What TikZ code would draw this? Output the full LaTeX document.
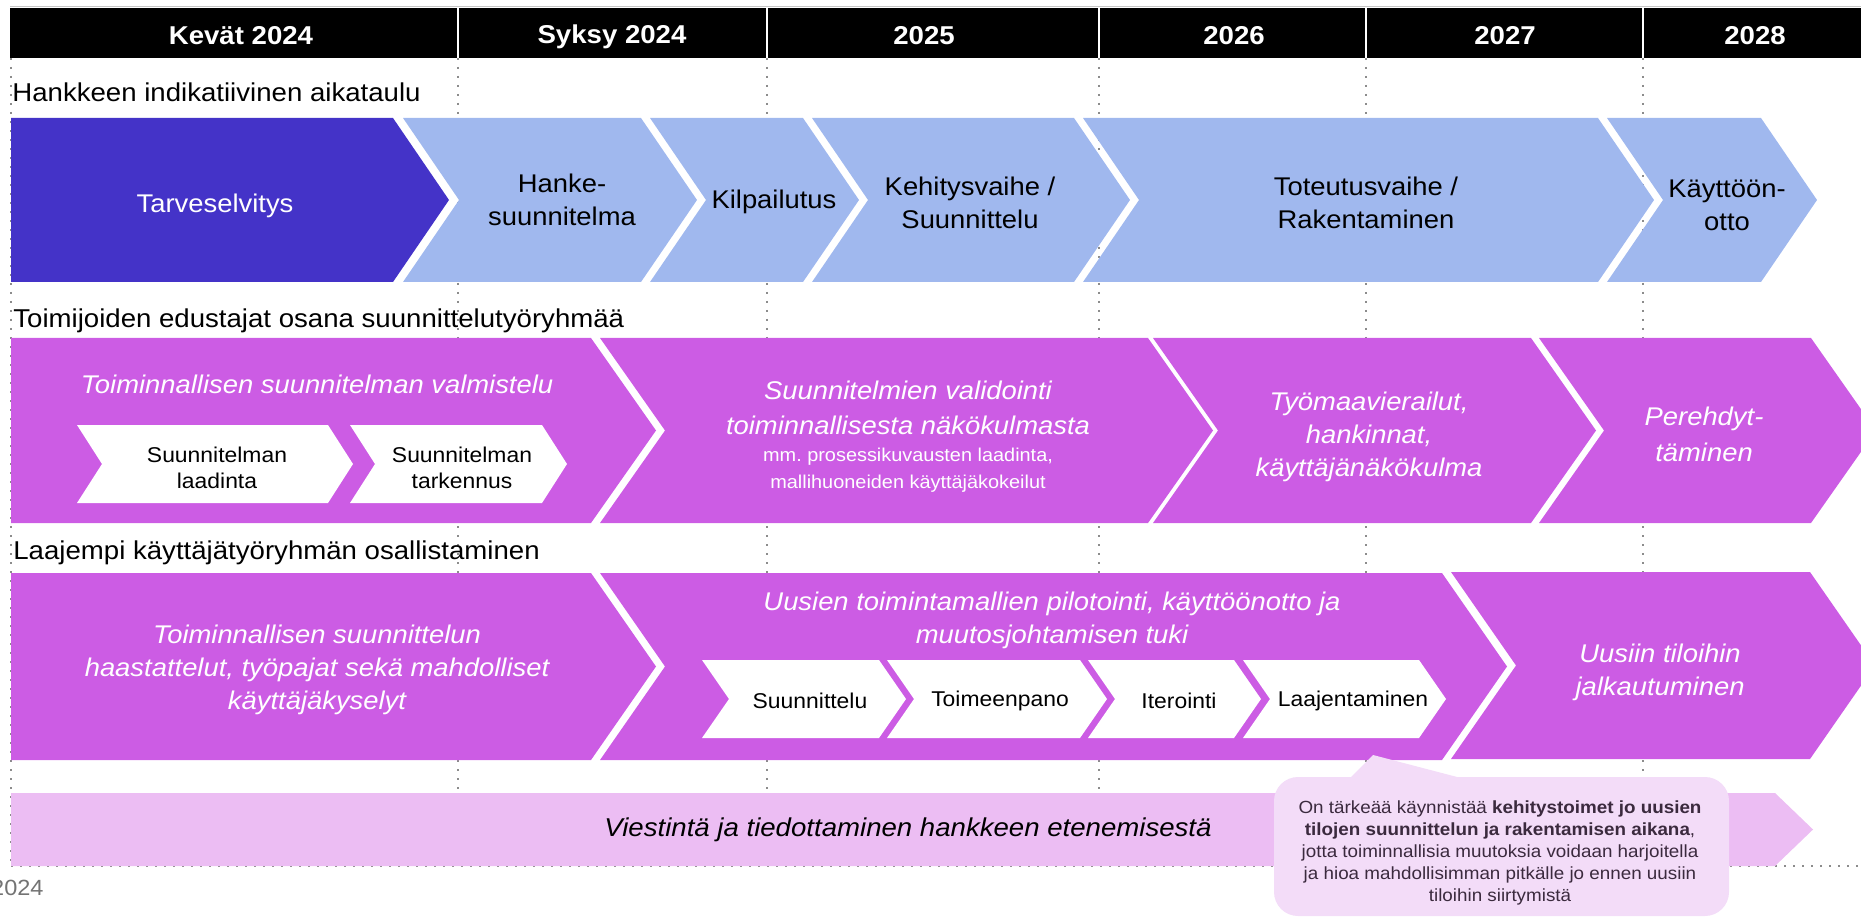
\documentclass[tikz,border=0pt]{standalone}
\usepackage{fontspec}
\setmainfont{Liberation Sans}[FakeStretch=1.07]
\definecolor{dblue}{HTML}{4433C8}
\definecolor{lblue}{HTML}{A0B8EE}
\definecolor{mag}{HTML}{CC5CE4}
\definecolor{lpink}{HTML}{ECBDF3}
\definecolor{bub}{HTML}{F3DCF8}
\definecolor{dotg}{HTML}{8C8C8C}
\definecolor{bubtext}{HTML}{3B2A3E}
% notched chevron: fill, left x, right x, top y, bottom y, depth
\newcommand\chevN[6]{\fill[#1] (#2,#4) -- (#3,#4) -- ({#3+#6},{(#4+#5)/2}) -- (#3,#5) -- (#2,#5) -- ({#2+#6},{(#4+#5)/2}) -- cycle;}
% flat-left chevron
\newcommand\chevF[6]{\fill[#1] (#2,#4) -- (#3,#4) -- ({#3+#6},{(#4+#5)/2}) -- (#3,#5) -- (#2,#5) -- cycle;}
\tikzset{
  dotline/.style={draw=dotg, line width=1pt, dash pattern=on 1pt off 3.5pt},
  lbl/.style={anchor=west, inner sep=0pt, font=\fontsize{12.9}{16}\selectfont},
  hdr/.style={text=white, inner sep=0pt, font=\bfseries\fontsize{12.9}{16}\selectfont},
  tone/.style={align=center, inner sep=0pt, font=\fontsize{12.8}{16.5}\selectfont},
  ttwo/.style={align=center, inner sep=0pt, text=white, font=\itshape\fontsize{12.8}{16.5}\selectfont},
  subt/.style={align=center, inner sep=0pt, font=\fontsize{10.7}{13}\selectfont},
}
\begin{document}
\begin{tikzpicture}[x=0.5pt,y=-0.5pt]
\useasboundingbox (0,0) rectangle (1861,919);
\clip (0,0) rectangle (1861,919);
% grid of dotted lines
\foreach \xx in {11,458,767,1099,1366,1643} \draw[dotline] (\xx,58) -- (\xx,866);
\draw[dotline] (11,866) -- (1861,866);
% header
\draw[gray!45, line width=0.5pt] (10,6.5) -- (1861,6.5);
\fill[black] (10,8) rectangle (1861,58);
\foreach \xx in {458,767,1099,1366,1643} \draw[white, line width=1pt] (\xx,8) -- (\xx,58);
\node[hdr] (h1) at (241,35.5) {Kevät 2024};
\node[hdr] (h2) at (612,37) {Syksy 2024};
\node[hdr] (h3) at (924,35.5) {2025};
\node[hdr] (h4) at (1234,35.5) {2026};
\node[hdr] (h5) at (1505,35.5) {2027};
\node[hdr] (h6) at (1755,35.5) {2028};
% row labels
\node[lbl] (l1) at (12,92) {Hankkeen indikatiivinen aikataulu};
\node[lbl] (l2) at (13,321) {Toimijoiden edustajat osana suunnittelutyöryhmää};
\node[lbl] (l3) at (13,552.5) {Laajempi käyttäjätyöryhmän osallistaminen};
% row 1
\chevF{dblue}{11}{393}{118}{282}{56}
\chevN{lblue}{403}{641}{118}{282}{56}
\chevN{lblue}{650}{803}{118}{282}{56}
\chevN{lblue}{812}{1074}{118}{282}{56}
\chevN{lblue}{1083}{1598}{118}{282}{56}
\chevN{lblue}{1607}{1761}{118}{282}{56}
\node[tone, text=white] (r1a) at (215,205.5) {Tarveselvitys};
\node[tone] (r1b) at (562,200) {Hanke-\\suunnitelma};
\node[tone] (r1c) at (774,202) {Kilpailutus};
\node[tone] (r1d) at (970,203) {Kehitysvaihe /\\Suunnittelu};
\node[tone] (r1e) at (1366,203) {Toteutusvaihe /\\Rakentaminen};
\node[tone] (r1f) at (1727,205) {Käyttöön-\\otto};
% row 2
\chevF{mag}{11}{591}{338}{523}{65}
\chevN{mag}{600}{1148}{338}{523}{65}
\chevN{mag}{1153}{1531}{338}{523}{65}
\chevN{mag}{1539}{1811}{338}{523}{65}
\node[ttwo] (r2a) at (317,384) {Toiminnallisen suunnitelman valmistelu};
\chevN{white}{77}{328}{425}{503}{25}
\chevN{white}{350}{542}{425}{503}{25}
\node[subt] (r2a1) at (217,467.5) {Suunnitelman\\laadinta};
\node[subt] (r2a2) at (462,467.5) {Suunnitelman\\tarkennus};
\node[ttwo, font=\itshape\fontsize{12.8}{17.5}\selectfont] (r2b) at (908,408) {Suunnitelmien validointi\\toiminnallisesta näkökulmasta};
\node[align=center, inner sep=0pt, text=white, font=\fontsize{9.3}{13.5}\selectfont] (r2bs) at (908,470) {mm.\ prosessikuvausten laadinta,\\mallihuoneiden käyttäjäkokeilut};
\node[ttwo] (r2c) at (1369,436.5) {Työmaavierailut,\\hankinnat,\\käyttäjänäkökulma};
\node[ttwo, font=\itshape\fontsize{12.8}{18}\selectfont] (r2d) at (1704,434) {Perehdyt-\\täminen};
% row 3
\chevF{mag}{11}{591}{573}{760}{65}
\chevN{mag}{600}{1442}{573}{760}{65}
\chevN{mag}{1451}{1810}{572}{759}{65}
\node[ttwo] (r3a) at (317,670) {Toiminnallisen suunnittelun\\haastattelut, työpajat sekä mahdolliset\\käyttäjäkyselyt};
\node[ttwo] (r3b) at (1052,620) {Uusien toimintamallien pilotointi, käyttöönotto ja\\muutosjohtamisen tuki};
\chevN{white}{702}{879}{660}{738}{27}
\chevN{white}{887}{1080}{660}{738}{27}
\chevN{white}{1088}{1234}{660}{738}{27}
\chevN{white}{1243}{1419}{660}{738}{27}
\node[subt] (s1) at (810,701) {Suunnittelu};
\node[subt] (s2) at (1000,701) {Toimeenpano};
\node[subt] (s3) at (1179,701) {Iterointi};
\node[subt] (s4) at (1353,701) {Laajentaminen};
\node[ttwo] (r3c) at (1660,672) {Uusiin tiloihin\\jalkautuminen};
% communication bar
\fill[lpink] (11,793) -- (1775,793) -- (1813,829.5) -- (1775,866) -- (11,866) -- cycle;
\node[inner sep=0pt, font=\itshape\fontsize{12.9}{16}\selectfont] (vt) at (908,830) {Viestintä ja tiedottaminen hankkeen etenemisestä};
% callout
\fill[bub, rounded corners=12pt] (1274,777) rectangle (1729,916);
\fill[bub] (1350,778) -- (1373,755) -- (1461,778) -- cycle;
\node[align=center, inner sep=0pt, text=bubtext, font=\fontsize{8.8}{11.1}\selectfont] (call) at (1500,853)
 {On tärkeää käynnistää \textbf{kehitystoimet jo uusien}\\\textbf{tilojen suunnittelun ja rakentamisen aikana},\\jotta toiminnallisia muutoksia voidaan harjoitella\\ja hioa mahdollisimman pitkälle jo ennen uusiin\\tiloihin siirtymistä};
% footer
\node[anchor=east, inner sep=0pt, text=black!55, font=\fontsize{11}{13}\selectfont] (yr) at (44,888) {2024};
\end{tikzpicture}
\end{document}
